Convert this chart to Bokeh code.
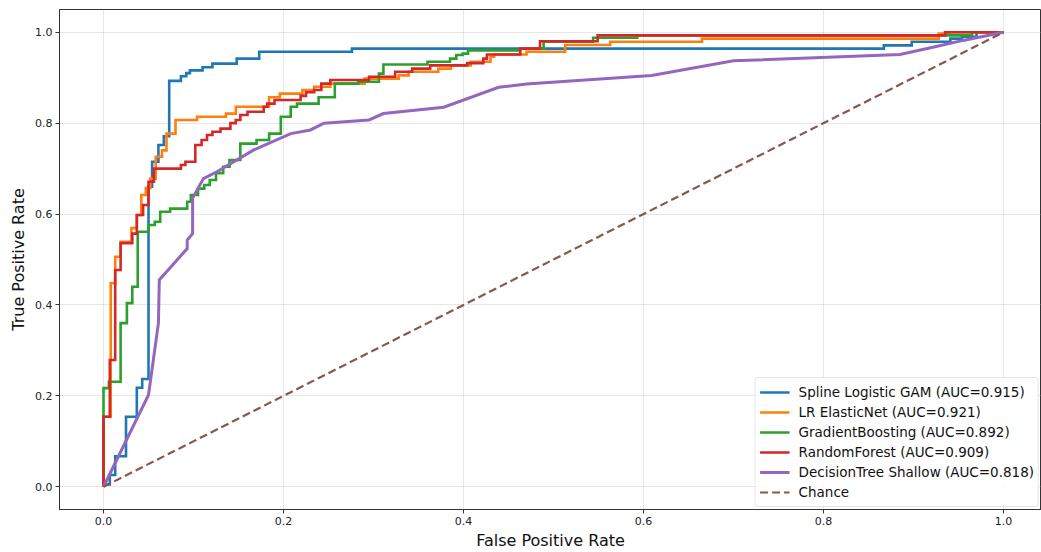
from bokeh.plotting import figure
from bokeh.models import Range1d, FixedTicker, NumeralTickFormatter, Legend, LegendItem
from bokeh.embed import file_html
from bokeh.resources import INLINE

# ---- data (ROC curve vertices) ----
gam_fpr = [0, 0, 0.007, 0.007, 0.013, 0.013, 0.025, 0.025, 0.037, 0.037, 0.043, 0.043, 0.05, 0.05,
           0.054, 0.054, 0.061, 0.061, 0.067, 0.067, 0.073, 0.073, 0.086, 0.086, 0.092, 0.092, 0.096, 0.096,
           0.11, 0.11, 0.121, 0.121, 0.148, 0.148, 0.173, 0.173, 0.276, 0.276, 0.867, 0.867, 0.898, 0.898,
           0.941, 0.941, 0.954, 0.954, 0.97, 0.97, 1.0]
gam_tpr = [0, 0.005, 0.005, 0.026, 0.026, 0.067, 0.067, 0.154, 0.154, 0.218, 0.218, 0.237, 0.237, 0.66,
           0.66, 0.715, 0.715, 0.752, 0.752, 0.771, 0.771, 0.893, 0.893, 0.903, 0.903, 0.91, 0.91, 0.916,
           0.916, 0.923, 0.923, 0.931, 0.931, 0.942, 0.942, 0.957, 0.957, 0.964, 0.964, 0.971, 0.971, 0.979,
           0.979, 0.986, 0.986, 0.99, 0.99, 1.0, 1.0]

lr_fpr = [0, 0, 0.008, 0.008, 0.013, 0.013, 0.019, 0.019, 0.031, 0.031, 0.037, 0.037, 0.042, 0.042,
          0.047, 0.047, 0.052, 0.052, 0.058, 0.058, 0.065, 0.065, 0.07, 0.07, 0.08, 0.08, 0.104, 0.104,
          0.136, 0.136, 0.147, 0.147, 0.184, 0.184, 0.196, 0.196, 0.221, 0.221, 0.234, 0.234, 0.252, 0.252,
          0.29, 0.29, 0.328, 0.328, 0.339, 0.339, 0.372, 0.372, 0.386, 0.386, 0.408, 0.408, 0.43, 0.43,
          0.434, 0.434, 0.47, 0.47, 0.513, 0.513, 0.563, 0.563, 0.665, 0.665, 0.928, 0.928, 0.94, 0.94, 1.0]
lr_tpr = [0, 0.154, 0.154, 0.448, 0.448, 0.506, 0.506, 0.539, 0.539, 0.569, 0.569, 0.598, 0.598, 0.642,
          0.642, 0.657, 0.657, 0.678, 0.678, 0.726, 0.726, 0.74, 0.74, 0.777, 0.777, 0.807, 0.807, 0.814,
          0.814, 0.821, 0.821, 0.836, 0.836, 0.857, 0.857, 0.865, 0.865, 0.873, 0.873, 0.88, 0.88, 0.887,
          0.887, 0.898, 0.898, 0.905, 0.905, 0.913, 0.913, 0.92, 0.92, 0.927, 0.927, 0.935, 0.935, 0.946,
          0.946, 0.951, 0.951, 0.957, 0.957, 0.972, 0.972, 0.979, 0.979, 0.986, 0.986, 0.997, 0.997, 1.0, 1.0]

gb_fpr = [0, 0, 0.006, 0.006, 0.019, 0.019, 0.026, 0.026, 0.032, 0.032, 0.038, 0.038, 0.05, 0.05,
          0.057, 0.057, 0.063, 0.063, 0.074, 0.074, 0.093, 0.093, 0.097, 0.097, 0.105, 0.105, 0.112, 0.112,
          0.118, 0.118, 0.125, 0.125, 0.133, 0.133, 0.14, 0.14, 0.152, 0.152, 0.17, 0.17, 0.184, 0.184,
          0.197, 0.197, 0.208, 0.208, 0.215, 0.215, 0.239, 0.239, 0.257, 0.257, 0.283, 0.283, 0.306, 0.306,
          0.311, 0.311, 0.36, 0.36, 0.385, 0.385, 0.392, 0.392, 0.399, 0.399, 0.405, 0.405, 0.463, 0.463,
          0.489, 0.489, 0.544, 0.544, 0.593, 0.593, 0.965, 0.965, 1.0]
gb_tpr = [0, 0.217, 0.217, 0.231, 0.231, 0.36, 0.36, 0.404, 0.404, 0.44, 0.44, 0.561, 0.561, 0.576,
          0.576, 0.583, 0.583, 0.605, 0.605, 0.612, 0.612, 0.627, 0.627, 0.642, 0.642, 0.656, 0.656, 0.664,
          0.664, 0.675, 0.675, 0.69, 0.69, 0.704, 0.704, 0.719, 0.719, 0.755, 0.755, 0.763, 0.763, 0.777,
          0.777, 0.814, 0.814, 0.836, 0.836, 0.843, 0.843, 0.857, 0.857, 0.887, 0.887, 0.891, 0.891, 0.909,
          0.909, 0.929, 0.929, 0.935, 0.935, 0.942, 0.942, 0.95, 0.95, 0.953, 0.953, 0.96, 0.96, 0.964,
          0.964, 0.979, 0.979, 0.988, 0.988, 0.993, 0.993, 1.0, 1.0]

rf_fpr = [0, 0, 0.007, 0.007, 0.013, 0.013, 0.019, 0.019, 0.032, 0.032, 0.037, 0.037, 0.044, 0.044,
          0.05, 0.05, 0.056, 0.056, 0.086, 0.086, 0.091, 0.091, 0.102, 0.102, 0.109, 0.109, 0.115, 0.115,
          0.121, 0.121, 0.13, 0.13, 0.141, 0.141, 0.147, 0.147, 0.152, 0.152, 0.16, 0.16, 0.178, 0.178,
          0.182, 0.182, 0.19, 0.19, 0.219, 0.219, 0.225, 0.225, 0.234, 0.234, 0.242, 0.242, 0.252, 0.252,
          0.295, 0.295, 0.324, 0.324, 0.343, 0.343, 0.363, 0.363, 0.404, 0.404, 0.422, 0.422, 0.426, 0.426,
          0.463, 0.463, 0.485, 0.485, 0.549, 0.549, 0.935, 0.935, 1.0]
rf_tpr = [0, 0.154, 0.154, 0.279, 0.279, 0.477, 0.477, 0.536, 0.536, 0.557, 0.557, 0.598, 0.598, 0.62,
          0.62, 0.671, 0.671, 0.70, 0.70, 0.708, 0.708, 0.715, 0.715, 0.752, 0.752, 0.763, 0.763, 0.774,
          0.774, 0.781, 0.781, 0.788, 0.788, 0.80, 0.80, 0.807, 0.807, 0.818, 0.818, 0.825, 0.825, 0.836,
          0.836, 0.843, 0.843, 0.851, 0.851, 0.86, 0.86, 0.868, 0.868, 0.873, 0.873, 0.887, 0.887, 0.895,
          0.895, 0.902, 0.902, 0.913, 0.913, 0.92, 0.92, 0.927, 0.927, 0.932, 0.932, 0.942, 0.942, 0.951,
          0.951, 0.964, 0.964, 0.98, 0.98, 0.993, 0.993, 1.0, 1.0]

dt_fpr = [0, 0.05, 0.061, 0.062, 0.093, 0.093, 0.099, 0.099, 0.111, 0.126, 0.167, 0.208, 0.23, 0.245,
          0.295, 0.311, 0.378, 0.439, 0.47, 0.609, 0.70, 0.885, 0.924, 0.955, 1.0]
dt_tpr = [0, 0.202, 0.36, 0.455, 0.524, 0.543, 0.557, 0.635, 0.678, 0.693, 0.741, 0.777, 0.785, 0.80,
          0.807, 0.821, 0.835, 0.879, 0.886, 0.905, 0.937, 0.951, 0.968, 0.982, 1.0]

chance_fpr = [0, 1]
chance_tpr = [0, 1]

labels = ["Spline Logistic GAM (AUC=0.915)", "LR ElasticNet (AUC=0.921)",
          "GradientBoosting (AUC=0.892)", "RandomForest (AUC=0.909)",
          "DecisionTree Shallow (AUC=0.818)", "Chance"]
colors = ["#1f77b4", "#ff7f0e", "#2ca02c", "#d62728", "#9467bd", "#8c564b"]
ticks = [0.0, 0.2, 0.4, 0.6, 0.8, 1.0]

FONT = "DejaVu Sans"

p = figure(width=1041, height=552, output_backend="svg", toolbar_location=None,
           x_range=Range1d(-0.0489, 1.0422), y_range=Range1d(-0.05, 1.05),
           min_border_left=59, min_border_right=0, min_border_top=9, min_border_bottom=43)
p.background_fill_color = "white"
p.border_fill_color = "white"
p.outline_line_color = "#333333"
p.outline_line_width = 1

for ax in (p.xaxis[0], p.yaxis[0]):
    ax.ticker = FixedTicker(ticks=ticks)
    ax.formatter = NumeralTickFormatter(format="0.0")
    ax.axis_line_color = "#333333"
    ax.major_tick_line_color = "#333333"
    ax.major_tick_out = 4
    ax.major_tick_in = 0
    ax.minor_tick_line_color = None
    ax.major_label_text_font = FONT
    ax.major_label_text_font_size = "11px"
    ax.major_label_text_color = "#222222"
    ax.axis_label_text_font = FONT
    ax.axis_label_text_font_size = "16px"
    ax.axis_label_text_font_style = "normal"
    ax.axis_label_text_color = "#111111"

p.xaxis.axis_label = "False Positive Rate"
p.yaxis.axis_label = "True Positive Rate"
p.xaxis.major_label_standoff = 3
p.yaxis.major_label_standoff = 3
p.xaxis.axis_label_standoff = 3
p.yaxis.axis_label_standoff = 4

p.xgrid.ticker = FixedTicker(ticks=ticks)
p.ygrid.ticker = FixedTicker(ticks=ticks)
p.grid.grid_line_color = "#b0b0b0"
p.grid.grid_line_alpha = 0.3
p.grid.grid_line_width = 1

series = [(gam_fpr, gam_tpr), (lr_fpr, lr_tpr), (gb_fpr, gb_tpr), (rf_fpr, rf_tpr), (dt_fpr, dt_tpr)]
renderers = []
for i, (fx, ty) in enumerate(series):
    r = p.line(fx, ty, line_color=colors[i], line_width=3 if i == 4 else 2.6,
               line_join="miter", line_cap="butt")
    renderers.append(r)
rc = p.line(chance_fpr, chance_tpr, line_color=colors[5], line_width=2.2, line_dash="8 4")
renderers.append(rc)

legend = Legend(items=[LegendItem(label=labels[i], renderers=[renderers[i]]) for i in range(6)],
                location="bottom_right")
legend.label_text_font = FONT
legend.label_text_font_size = "13.5px"
legend.label_text_color = "#111111"
legend.glyph_width = 30
legend.glyph_height = 20
legend.label_height = 20
legend.label_standoff = 9
legend.spacing = 0
legend.padding = 4
legend.margin = 2
legend.border_line_color = "#cccccc"
legend.border_line_width = 1
legend.border_radius = 3
legend.background_fill_alpha = 0.85
p.add_layout(legend)

open("out.html", "w").write(file_html(p, INLINE))
